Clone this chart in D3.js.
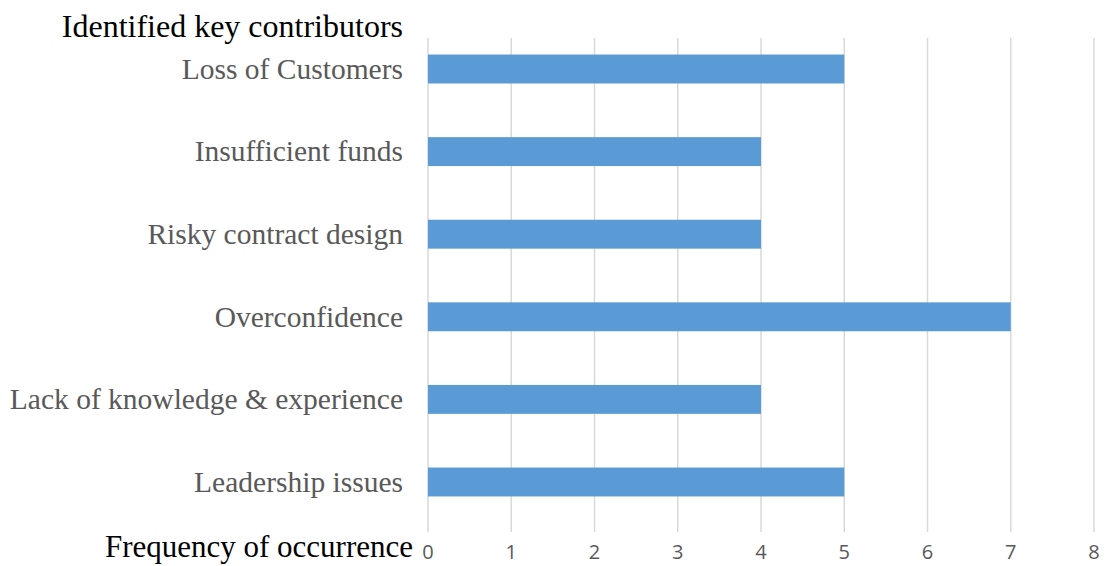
<!DOCTYPE html>
<html>
<head>
<meta charset="utf-8">
<script src="https://cdn.jsdelivr.net/npm/d3@7"></script>
<style>
  html, body { margin: 0; padding: 0; background: #fff; }
  svg { display: block; }
</style>
</head>
<body>
<svg id="chart" width="1108" height="566"></svg>
<script>
// Key contributors and how often each was identified
const categories = [
  "Loss of Customers",
  "Insufficient funds",
  "Risky contract design",
  "Overconfidence",
  "Lack of knowledge & experience",
  "Leadership issues"
];
const frequencies = [5, 4, 4, 7, 4, 5];
const tickValues = [0, 1, 2, 3, 4, 5, 6, 7, 8];

const serif = "'Times New Roman', 'Liberation Serif', Times, serif";
const svg = d3.select("#chart");

const x = d3.scaleLinear().domain([0, 8]).range([428, 1094]);
const y = d3.scaleBand().domain(categories).range([27.7, 523.3]).paddingInner(0.65).paddingOuter(0.325);

// vertical gridlines
svg.append("g")
  .selectAll("line")
  .data(tickValues)
  .join("line")
  .attr("x1", d => x(d)).attr("x2", d => x(d))
  .attr("y1", 38).attr("y2", 532)
  .attr("stroke", "#d9d9d9")
  .attr("stroke-width", 1.5);

// bars
svg.append("g")
  .selectAll("rect")
  .data(categories)
  .join("rect")
  .attr("x", x(0))
  .attr("y", d => y(d))
  .attr("width", (d, i) => x(frequencies[i]) - x(0))
  .attr("height", y.bandwidth())
  .attr("fill", "#5b9bd5");

// category labels
svg.append("g")
  .selectAll("text")
  .data(categories)
  .join("text")
  .attr("x", 403)
  .attr("y", d => y(d) + y.bandwidth() / 2)
  .attr("dy", "0.33em")
  .attr("text-anchor", "end")
  .attr("font-family", serif)
  .attr("font-size", 29.5)
  .attr("fill", "#595959")
  .text(d => d);

// x tick labels
svg.append("g")
  .selectAll("text")
  .data(tickValues)
  .join("text")
  .attr("x", d => x(d))
  .attr("y", 559)
  .attr("text-anchor", "middle")
  .attr("font-family", "'Liberation Sans Narrow', 'Open Sans', sans-serif")
  .attr("font-size", 20)
  .attr("fill", "#595959")
  .text(d => d);

// axis titles
svg.append("text")
  .attr("x", 403).attr("y", 37)
  .attr("text-anchor", "end")
  .attr("font-family", serif)
  .attr("font-size", 32)
  .attr("fill", "#000")
  .text("Identified key contributors");

svg.append("text")
  .attr("x", 413).attr("y", 557)
  .attr("text-anchor", "end")
  .attr("font-family", serif)
  .attr("font-size", 31)
  .attr("fill", "#000")
  .text("Frequency of occurrence");
</script>
</body>
</html>
